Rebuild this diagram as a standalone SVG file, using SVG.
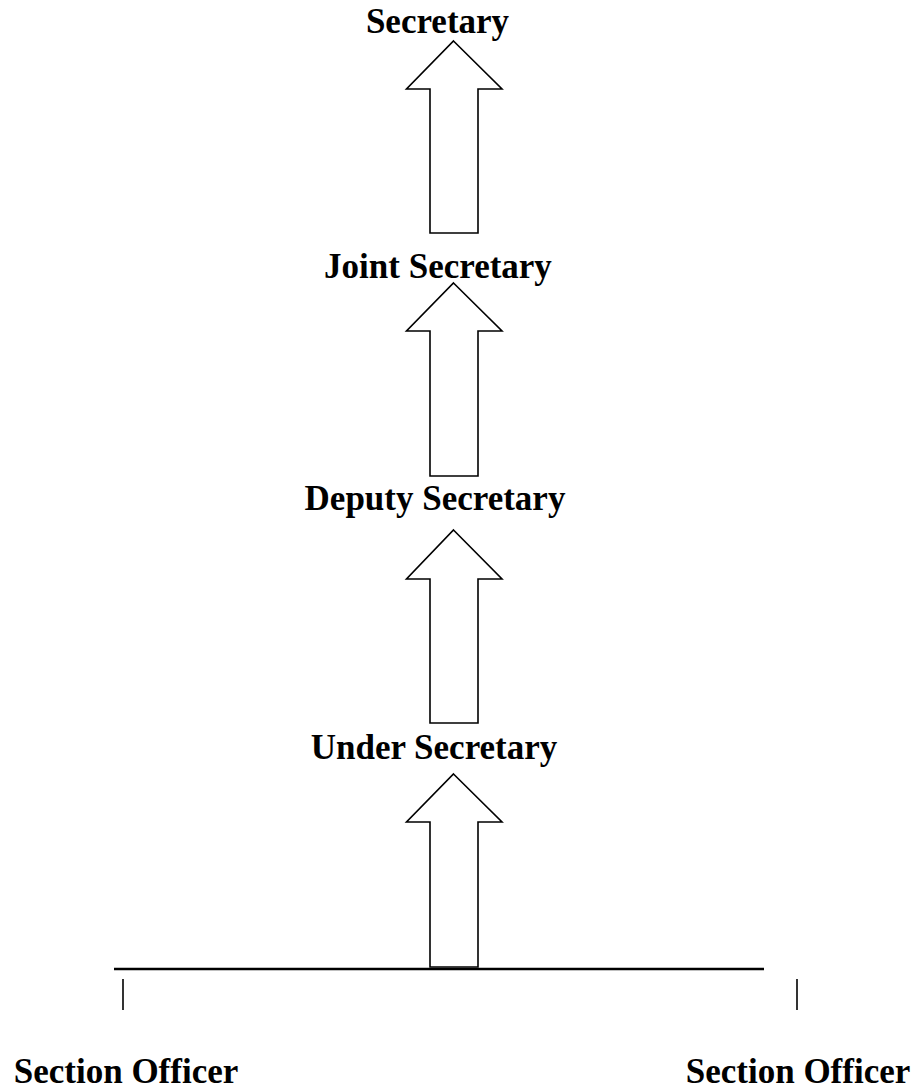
<svg xmlns="http://www.w3.org/2000/svg" width="917" height="1092" viewBox="0 0 917 1092">
<style>
.lbl{font-family:"Liberation Serif","Times New Roman",serif;font-weight:bold;font-size:35px;fill:#000;text-anchor:middle}
.arr{fill:#fff;stroke:#000;stroke-width:1.6;stroke-linejoin:miter}
.ln{stroke:#000;fill:none}
</style>
<rect width="917" height="1092" fill="#fff"/>
<g id="n-secretary"><text class="lbl" x="437.5" y="33">Secretary</text></g>
<g id="n-joint"><text class="lbl" x="438" y="278">Joint Secretary</text></g>
<g id="n-deputy"><text class="lbl" x="435" y="510">Deputy Secretary</text></g>
<g id="n-under"><text class="lbl" x="434" y="759">Under Secretary</text></g>
<g id="n-so-left"><text class="lbl" x="126" y="1083">Section Officer</text></g>
<g id="n-so-right"><text class="lbl" x="798" y="1083">Section Officer</text></g>
<g id="connectors">
<polygon class="arr" points="453.5,41 502,89 478,89 478,233 430,233 430,89 406.5,89"/>
<polygon class="arr" points="453.5,283 502,331 478,331 478,476 430,476 430,331 406.5,331"/>
<polygon class="arr" points="453.5,530 502,579 478,579 478,723 430,723 430,579 406.5,579"/>
<polygon class="arr" points="453.5,774 502,822 478,822 478,967 430,967 430,822 406.5,822"/>
<line class="ln" x1="114" y1="969" x2="764" y2="969" stroke-width="2.5"/>
<line class="ln" x1="123" y1="979" x2="123" y2="1010" stroke-width="1.6"/>
<line class="ln" x1="797" y1="979" x2="797" y2="1010" stroke-width="1.6"/>
</g>
</svg>
